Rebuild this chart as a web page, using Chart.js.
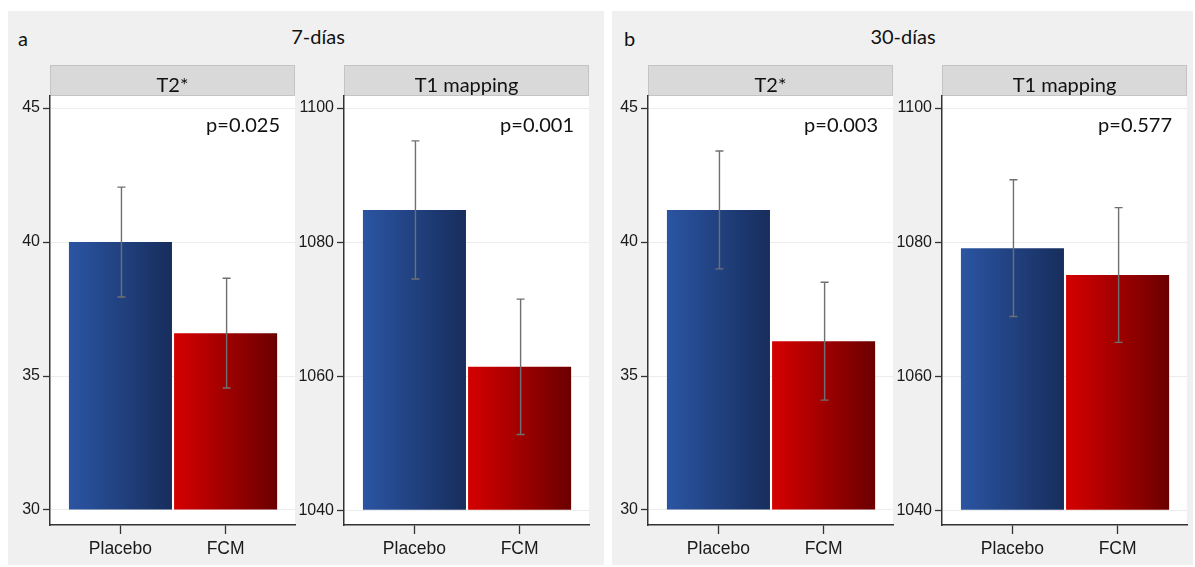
<!DOCTYPE html>
<html>
<head>
<meta charset="utf-8">
<script src="https://cdn.jsdelivr.net/npm/chart.js@4.4.1/dist/chart.umd.min.js"></script>
<style>
  body { margin: 0; background: #fff; width: 1195px; height: 567px; position: relative; overflow: hidden; }
  .panel { position: absolute; background: #f0f0f0; top: 11px; height: 554px; }
  .lbl { position: absolute; font-family: Lato, sans-serif; font-size: 20px; color: #111; }
  canvas { position: absolute; top: 65px; }
</style>
</head>
<body>
<div class="panel" style="left:8px; width:596px;"></div>
<div class="panel" style="left:612px; width:581px;"></div>
<div class="lbl" style="left:18px; top:26px;">a</div>
<div class="lbl" style="left:268px; top:24px; width:100px; text-align:center;">7-días</div>
<div class="lbl" style="left:624px; top:26px;">b</div>
<div class="lbl" style="left:853px; top:24px; width:100px; text-align:center;">30-días</div>

<canvas id="c1" width="292" height="500" style="left:5px"></canvas>
<canvas id="c2" width="292" height="500" style="left:299px"></canvas>
<canvas id="c3" width="292" height="500" style="left:603px"></canvas>
<canvas id="c4" width="292" height="500" style="left:897px"></canvas>

<script>
// groups and their positions on the x axis
const groups = ["Placebo", "FCM"];
const groupPos = [1, 2];

// means and standard deviations
const t2Day7 = [40.0, 36.6];
const t2Day7Sd = [2.05, 2.05];
const t1Day7 = [1084.8, 1061.4];
const t1Day7Sd = [10.3, 10.1];
const t2Day30 = [41.2, 36.3];
const t2Day30Sd = [2.2, 2.2];
const t1Day30 = [1079.1, 1075.1];
const t1Day30Sd = [10.2, 10.05];

const pValues = ["p=0.025", "p=0.001", "p=0.003", "p=0.577"];
const panelTitles = ["T2*", "T1 mapping", "T2*", "T1 mapping"];

const t2Ticks = [30, 35, 40, 45];
const t1Ticks = [1040, 1060, 1080, 1100];

Chart.defaults.font.family = "'Liberation Sans', Arial, sans-serif";
Chart.defaults.color = "#1a1a1a";

function barGradient(ctx) {
    const chart = ctx.chart;
    if (!chart.chartArea) return "#2b55a3";
    const x = chart.scales.x;
    const cx = x.getPixelForValue(groupPos[ctx.dataIndex]);
    const half = 52;
    const g = chart.ctx.createLinearGradient(cx - half, 0, cx + half, 0);
    if (ctx.dataIndex === 0) {
        g.addColorStop(0, "#2b55a3");
        g.addColorStop(1, "#172d5c");
    } else {
        g.addColorStop(0, "#d60000");
        g.addColorStop(1, "#6a0000");
    }
    return g;
}

// white plot background, grey strip header, p-value and error bars
const panelDecor = {
    id: "panelDecor",
    beforeDraw(chart, args, opts) {
        const { ctx, chartArea: a } = chart;
        ctx.save();
        ctx.fillStyle = "#fff";
        ctx.fillRect(a.left, a.top, a.right - a.left, a.bottom - a.top);
        ctx.fillStyle = "#d9d9d9";
        ctx.fillRect(a.left, 0, a.right - a.left, a.top);
        ctx.strokeStyle = "#c4c4c4";
        ctx.lineWidth = 1;
        ctx.strokeRect(a.left + 0.5, 0.5, a.right - a.left - 1, a.top - 1);
        ctx.fillStyle = "#111";
        ctx.font = "20px Lato";
        ctx.textAlign = "center";
        ctx.textBaseline = "alphabetic";
        ctx.fillText(opts.title, (a.left + a.right) / 2, 27);
        ctx.restore();
    },
    afterDatasetsDraw(chart, args, opts) {
        const { ctx, chartArea: a, scales } = chart;
        const means = chart.data.datasets[0].data;
        ctx.save();
        ctx.strokeStyle = "#707070";
        ctx.lineWidth = 1.4;
        means.forEach((m, i) => {
            const cx = scales.x.getPixelForValue(groupPos[i]) + 1;
            const top = scales.y.getPixelForValue(m.y + opts.sd[i]);
            const bot = scales.y.getPixelForValue(m.y - opts.sd[i]);
            ctx.beginPath();
            ctx.moveTo(cx, top); ctx.lineTo(cx, bot);
            ctx.moveTo(cx - 4, top); ctx.lineTo(cx + 4, top);
            ctx.moveTo(cx - 4, bot); ctx.lineTo(cx + 4, bot);
            ctx.stroke();
        });
        ctx.fillStyle = "#111";
        ctx.font = "20px Lato";
        ctx.textAlign = "right";
        ctx.fillText(opts.p, a.right - 15, a.top + 36);
        ctx.restore();
    }
};

function makePanel(id, means, sd, ticks, yMin, yMax, title, p) {
    new Chart(document.getElementById(id), {
        type: "bar",
        data: {
            datasets: [{
                data: means.map((v, i) => ({ x: groupPos[i], y: v })),
                base: ticks[0],
                backgroundColor: barGradient,
                barPercentage: 0.98,
                categoryPercentage: 1.0,
            }]
        },
        options: {
            responsive: false,
            animation: false,
            layout: { padding: { top: 31, right: 2, left: 0, bottom: 0 } },
            plugins: {
                legend: { display: false },
                tooltip: { enabled: false },
                panelDecor: { title: title, p: p, sd: sd }
            },
            scales: {
                x: {
                    type: "linear",
                    offset: false,
                    min: 0.33,
                    max: 2.66,
                    afterBuildTicks: s => { s.ticks = groupPos.map(v => ({ value: v })); },
                    afterFit: s => { s.height = 40; },
                    grid: { offset: false, drawOnChartArea: false, tickColor: "#333", tickLength: 9, tickWidth: 1.3 },
                    border: { color: "#333", width: 1.5 },
                    ticks: {
                        padding: 5,
                        font: { size: 17.5 },
                        callback: v => groups[groupPos.indexOf(v)]
                    }
                },
                y: {
                    min: yMin,
                    max: yMax,
                    afterBuildTicks: s => { s.ticks = ticks.map(v => ({ value: v })); },
                    afterFit: s => { s.width = 45; },
                    grid: { color: "#ececec", tickColor: "#333", tickLength: 7, tickWidth: 1.3 },
                    border: { color: "#333", width: 1.5 },
                    ticks: { padding: 3, font: { size: 16 }, callback: v => String(v) }
                }
            }
        },
        plugins: [panelDecor]
    });
}

makePanel("c1", t2Day7, t2Day7Sd, t2Ticks, 29.44, 45.45, panelTitles[0], pValues[0]);
makePanel("c2", t1Day7, t1Day7Sd, t1Ticks, 1037.8, 1101.8, panelTitles[1], pValues[1]);
makePanel("c3", t2Day30, t2Day30Sd, t2Ticks, 29.44, 45.45, panelTitles[2], pValues[2]);
makePanel("c4", t1Day30, t1Day30Sd, t1Ticks, 1037.8, 1101.8, panelTitles[3], pValues[3]);
</script>
</body>
</html>
